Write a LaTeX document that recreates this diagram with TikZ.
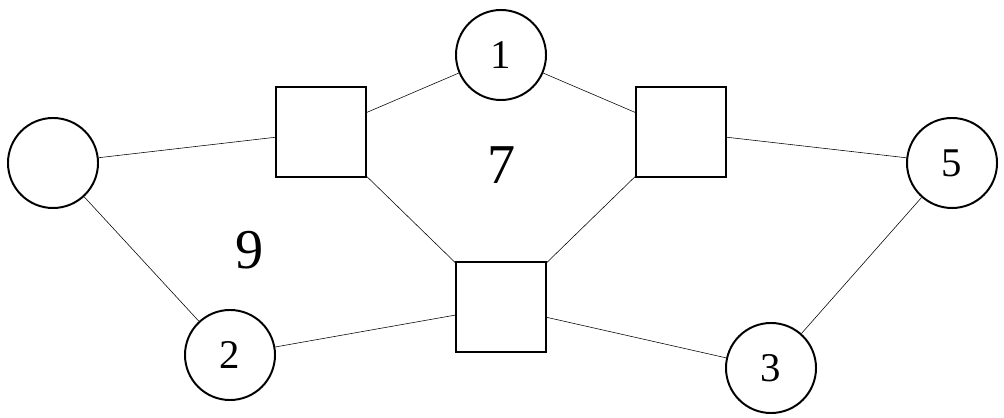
\documentclass[tikz,border=0pt]{standalone}
\usepackage{fontspec}
\setmainfont{Liberation Serif}
\begin{document}
\begin{tikzpicture}[x=.025cm, y=-.025cm]
\tikzstyle{rnd}=[circle, draw, line width=1.4pt, inner sep=0pt,
                 minimum size=2.25cm, font=\fontsize{29}{29}\selectfont]
\tikzstyle{sq}=[rectangle, draw, line width=1.4pt, inner sep=0pt,
                minimum size=2.25cm]
\tikzstyle{lbl}=[inner sep=0pt, font=\fontsize{40}{40}\selectfont]
\useasboundingbox (0,0) rectangle (1004,418);
\node[rnd] (L) at (53,163) {};
\node[rnd] (one) at (501,55) {1};
\node[rnd] (five) at (952,163) {5};
\node[rnd] (two) at (230,355) {2};
\node[rnd] (three) at (771,368) {3};
\node[sq] (SL) at (321,132) {};
\node[sq] (SR) at (681,132) {};
\node[sq] (SB) at (501,307) {};
\node[lbl] (f7) at (502,165) {7};
\node[lbl] (f9) at (250,250) {9};
% outer ring
\draw (L) -- (SL);
\draw (SL) -- (one);
\draw (one) -- (SR);
\draw (SR) -- (five);
\draw (five) -- (three);
\draw (three) -- (SB);
\draw (SB) -- (two);
\draw (two) -- (L);
% inner links
\draw (SL) -- (SB);
\draw (SR) -- (SB);
\end{tikzpicture}
\end{document}
